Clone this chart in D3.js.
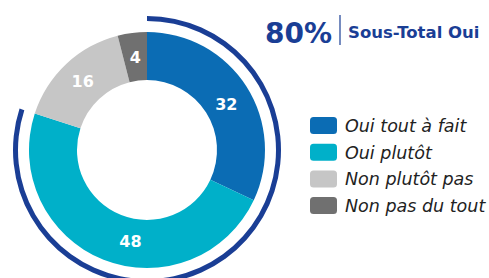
<!DOCTYPE html>
<html>
<head>
<meta charset="utf-8">
<script src="https://cdn.jsdelivr.net/npm/d3@7"></script>
<style>
body { margin: 0; background: #fff; }
text { font-family: "DejaVu Sans", sans-serif; }
</style>
</head>
<body>
<div id="chart"></div>
<script>
// data
var categories = ["Oui tout à fait", "Oui plutôt", "Non plutôt pas", "Non pas du tout"];
var values = [32, 48, 16, 4];
var colors = ["#0b6cb4", "#00b0c9", "#c6c6c6", "#707070"];
var subtotal = 80;
var subtotalLabel = "Sous-Total Oui";

var width = 489, height = 278;
var cx = 147, cy = 150;

var svg = d3.select("#chart")
  .append("svg")
  .attr("width", width)
  .attr("height", height);

var g = svg.append("g")
  .attr("transform", "translate(" + cx + "," + cy + ")");

var pie = d3.pie().sort(null).value(function(d) { return d; });
var arcs = pie(values);

var arc = d3.arc().innerRadius(70).outerRadius(118);

g.selectAll("path.slice")
  .data(arcs)
  .enter()
  .append("path")
    .attr("class", "slice")
    .attr("d", arc)
    .style("fill", function(d, i) { return colors[i]; });

g.selectAll("text.val")
  .data(arcs)
  .enter()
  .append("text")
    .attr("class", "val")
    .attr("transform", function(d, i) {
      var c = arc.centroid(d);
      if (i == 1) c[0] += 18, c[1] += 4;   // the 48 sits a bit right of its centroid
      if (i == 0) c[1] += 5;
      return "translate(" + c + ")";
    })
    .attr("text-anchor", "middle")
    .attr("dy", "0.36em")
    .attr("font-size", "16px")
    .attr("font-weight", "bold")
    .attr("fill", "white")
    .text(function(d) { return d.data; });

// outer ring for the "oui" subtotal
var total = d3.sum(values);
var ring = d3.arc()
  .innerRadius(129)
  .outerRadius(134)
  .startAngle(0)
  .endAngle(2 * Math.PI * subtotal / total);

g.append("path")
  .attr("d", ring())
  .style("fill", "#1a3e95");

// title
svg.append("text")
  .attr("x", 265)
  .attr("y", 43)
  .attr("font-size", "28px")
  .attr("font-weight", "bold")
  .attr("fill", "#1a3e95")
  .text(subtotal + "%");

svg.append("line")
  .attr("x1", 340).attr("x2", 340)
  .attr("y1", 15).attr("y2", 45)
  .style("stroke", "#1a3e95")
  .style("stroke-width", 1.2);

svg.append("text")
  .attr("x", 348)
  .attr("y", 38)
  .attr("font-size", "16.5px")
  .attr("font-weight", "bold")
  .attr("fill", "#1a3e95")
  .text(subtotalLabel);

// legend
var legend = svg.selectAll("g.legend")
  .data(categories)
  .enter()
  .append("g")
    .attr("class", "legend")
    .attr("transform", function(d, i) { return "translate(310," + (117 + i * 26.7) + ")"; });

legend.append("rect")
  .attr("width", 27)
  .attr("height", 17)
  .attr("rx", 3.5)
  .style("fill", function(d, i) { return colors[i]; });

legend.append("text")
  .attr("x", 35)
  .attr("y", 15)
  .attr("font-size", "17.5px")
  .attr("font-style", "italic")
  .attr("fill", "#222")
  .text(function(d) { return d; });
</script>
</body>
</html>
